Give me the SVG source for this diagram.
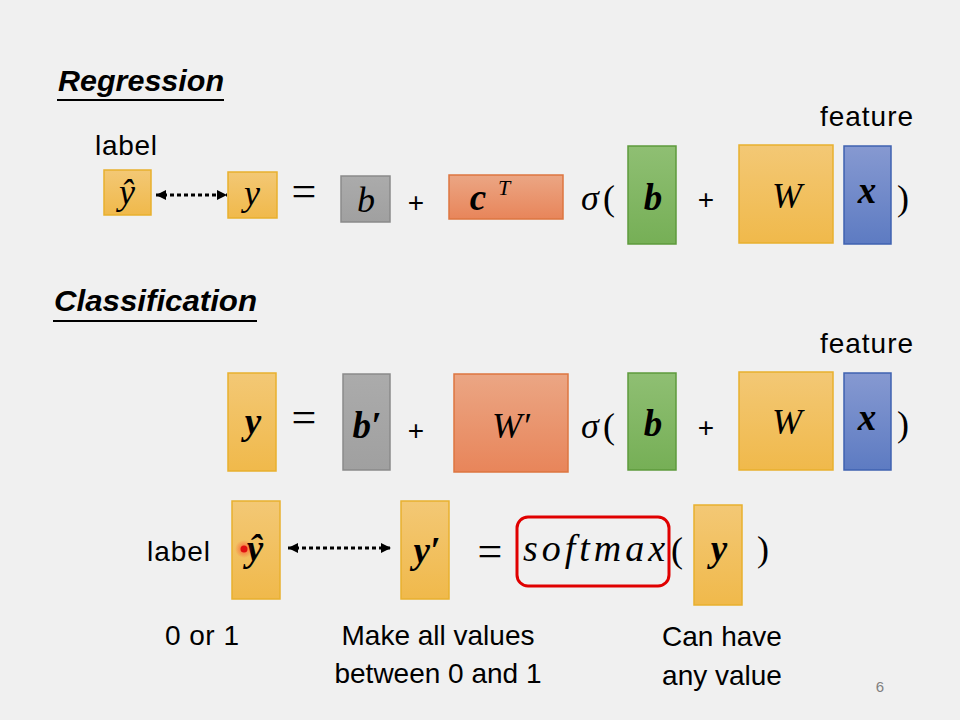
<svg xmlns="http://www.w3.org/2000/svg" width="960" height="720" viewBox="0 0 960 720">
<defs>
<linearGradient id="gY" x1="0" y1="0" x2="0" y2="1"><stop offset="0" stop-color="#f3c875"/><stop offset="1" stop-color="#f0b94b"/></linearGradient>
<linearGradient id="gO" x1="0" y1="0" x2="0" y2="1"><stop offset="0" stop-color="#eba684"/><stop offset="1" stop-color="#e8855a"/></linearGradient>
<linearGradient id="gG" x1="0" y1="0" x2="0" y2="1"><stop offset="0" stop-color="#8fbf73"/><stop offset="1" stop-color="#76af56"/></linearGradient>
<linearGradient id="gB" x1="0" y1="0" x2="0" y2="1"><stop offset="0" stop-color="#8699d1"/><stop offset="1" stop-color="#5d7bc2"/></linearGradient>
<linearGradient id="gK" x1="0" y1="0" x2="0" y2="1"><stop offset="0" stop-color="#ababab"/><stop offset="1" stop-color="#a0a0a0"/></linearGradient>
<marker id="ah" viewBox="0 0 10 10" refX="10" refY="5" markerWidth="10" markerHeight="10" markerUnits="userSpaceOnUse" orient="auto-start-reverse"><path d="M0,0 L10,5 L0,10 z" fill="#000"/></marker>
<radialGradient id="glow"><stop offset="0" stop-color="#ff2020" stop-opacity="0.6"/><stop offset="1" stop-color="#ff2020" stop-opacity="0"/></radialGradient>
</defs>
<style>
.y{fill:url(#gY);stroke:#e8b02e;stroke-width:1.5}
.o{fill:url(#gO);stroke:#dd7640;stroke-width:1.5}
.g{fill:url(#gG);stroke:#5e9a3c;stroke-width:1.5}
.bl{fill:url(#gB);stroke:#3f62b0;stroke-width:1.5}
.k{fill:url(#gK);stroke:#8a8a8a;stroke-width:1.5}
.m{font-family:"Liberation Serif","DejaVu Serif",serif;font-style:italic;font-size:36px;fill:#000;text-anchor:middle}
.p{font-family:"Liberation Serif","DejaVu Serif",serif;font-size:36px;fill:#000;text-anchor:middle}
.mb{font-family:"Liberation Serif","DejaVu Serif",serif;font-style:italic;font-weight:bold;font-size:37px;fill:#000;text-anchor:middle}
.eq{font-family:"Liberation Serif",serif;font-size:44px;fill:#000;text-anchor:middle}
.s{font-family:"Liberation Sans",Arial,sans-serif;font-size:28px;fill:#000}
.c{text-anchor:middle}
.t{font-family:"Liberation Sans",Arial,sans-serif;font-size:30px;font-weight:bold;font-style:italic;fill:#000}
.dot{fill:none;stroke:#000;stroke-width:3;stroke-dasharray:4 3}
</style>
<rect width="960" height="720" fill="#f0f0f0"/>

<g id="title-regression">
<text class="t" x="58" y="91" textLength="166" lengthAdjust="spacingAndGlyphs">Regression</text>
<line x1="57" y1="100" x2="224" y2="100" stroke="#000" stroke-width="2"/>
</g>
<g id="title-classification">
<text class="t" x="54" y="311" textLength="203" lengthAdjust="spacingAndGlyphs">Classification</text>
<line x1="53" y1="321" x2="257" y2="321" stroke="#000" stroke-width="2"/>
</g>

<!-- Regression row -->
<text class="s" x="95" y="155" textLength="62">label</text>
<g id="r-yhat"><rect class="y" x="104" y="170" width="47" height="45"/><text class="m" x="127" y="204">ŷ</text></g>
<g id="r-y"><rect class="y" x="228" y="172" width="49" height="46"/><text class="m" x="252" y="205">y</text></g>
<text class="eq" x="304" y="206">=</text>
<g id="r-b0"><rect class="k" x="341" y="176" width="49" height="46"/><text class="m" x="366" y="212">b</text></g>
<text class="s c" x="416" y="212">+</text>
<g id="r-cT"><rect class="o" x="449" y="175" width="114" height="44"/><text class="mb" x="478" y="210">c</text><text class="m" x="504" y="195" style="font-size:22px">T</text></g>
<text class="m" x="590" y="210">σ</text><text class="p" x="609" y="210">(</text>
<g id="r-b"><rect class="g" x="628" y="146" width="48" height="98"/><text class="mb" x="653" y="210">b</text></g>
<text class="s c" x="706" y="209">+</text>
<g id="r-W"><rect class="y" x="739" y="145" width="94" height="98"/><text class="m" x="787" y="208">W</text></g>
<g id="r-x"><rect class="bl" x="844" y="146" width="47" height="98"/><text class="mb" x="867" y="203">x</text></g>
<text class="p" x="903" y="210">)</text>
<text class="s" x="820" y="126" textLength="93">feature</text>

<!-- Classification row -->
<g id="c-y"><rect class="y" x="228" y="373" width="48" height="98"/><text class="mb" x="253" y="434">y</text></g>
<text class="eq" x="304" y="432">=</text>
<g id="c-bp"><rect class="k" x="343" y="374" width="47" height="96"/><text class="mb" x="367" y="438">b′</text></g>
<text class="s c" x="416" y="440">+</text>
<g id="c-Wp"><rect class="o" x="454" y="374" width="114" height="98"/><text class="m" x="511" y="438">W′</text></g>
<text class="m" x="590" y="438">σ</text><text class="p" x="609" y="438">(</text>
<g id="c-b"><rect class="g" x="628" y="373" width="48" height="97"/><text class="mb" x="653" y="436">b</text></g>
<text class="s c" x="706" y="437">+</text>
<g id="c-W"><rect class="y" x="739" y="372" width="94" height="98"/><text class="m" x="787" y="434">W</text></g>
<g id="c-x"><rect class="bl" x="844" y="373" width="47" height="97"/><text class="mb" x="867" y="430">x</text></g>
<text class="p" x="903" y="436">)</text>
<text class="s" x="820" y="353" textLength="93">feature</text>

<!-- Softmax row -->
<text class="s" x="147" y="561" textLength="63">label</text>
<g id="s-yhat"><rect class="y" x="232" y="501" width="48" height="98"/><text class="mb" x="255" y="561">ŷ</text></g>
<g id="s-yp"><rect class="y" x="401" y="501" width="48" height="98"/><text class="mb" x="427" y="563">y′</text></g>
<text class="eq" x="490" y="566">=</text>
<g id="s-softmax"><rect x="517" y="517" width="152" height="69" rx="11" fill="none" stroke="#e00000" stroke-width="3"/><text class="m" x="523" y="561" style="text-anchor:start;font-size:38px" textLength="142" lengthAdjust="spacing">softmax</text></g>
<text class="p" x="677" y="562">(</text>
<g id="s-y"><rect class="y" x="694" y="505" width="48" height="100"/><text class="mb" x="719" y="561">y</text></g>
<text class="p" x="763" y="561">)</text>

<g id="pointer"><circle cx="244" cy="549" r="9" fill="url(#glow)"/><circle cx="244" cy="549" r="3.5" fill="#e01010"/></g>

<text class="s" x="165" y="645" textLength="74">0 or 1</text>
<text class="s c" x="438" y="645">Make all values</text>
<text class="s c" x="438" y="683">between 0 and 1</text>
<text class="s c" x="722" y="646">Can have</text>
<text class="s c" x="722" y="685">any value</text>
<text x="880" y="692" font-family="Liberation Sans,Arial,sans-serif" font-size="15" fill="#808080" text-anchor="middle">6</text>

<g id="connectors">
<line class="dot" x1="156" y1="195" x2="227" y2="195" marker-start="url(#ah)" marker-end="url(#ah)"/>
<line class="dot" x1="288" y1="548" x2="391" y2="548" marker-start="url(#ah)" marker-end="url(#ah)"/>
</g>
</svg>
